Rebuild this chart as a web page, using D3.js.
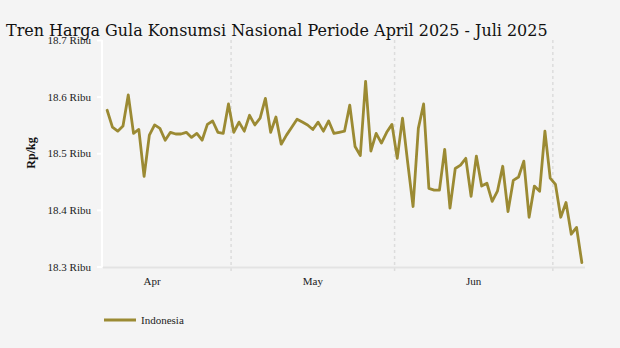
<!DOCTYPE html>
<html><head><meta charset="utf-8">
<script src="https://cdn.jsdelivr.net/npm/d3@7"></script>
<style>
html,body{margin:0;padding:0;background:#f4f4f4;}
svg{display:block;}
</style></head>
<body><svg id="c" width="620" height="348"></svg>
<script>
const title = "Tren Harga Gula Konsumsi Nasional Periode April 2025 - Juli 2025";
const seriesName = "Indonesia";
const yAxisTitle = "Rp/kg";
const startDate = "2025-04-07";
const prices = [
18576,18546,18539,18548,18603,18535,18542,18459,18532,18550,
18544,18523,18537,18534,18534,18537,18528,18535,18523,18551,
18557,18537,18535,18587,18537,18555,18539,18567,18550,18562,
18597,18537,18564,18516,18532,18546,18560,18555,18550,18542,
18555,18539,18557,18535,18537,18539,18585,18512,18496,18627,
18504,18535,18518,18537,18551,18491,18562,18482,18406,18544,
18587,18438,18435,18435,18507,18403,18473,18479,18491,18424,
18495,18442,18447,18415,18433,18477,18397,18452,18458,18486,
18387,18442,18433,18539,18456,18445,18387,18413,18357,18369,18307];
const yTicks = [18300,18400,18500,18600,18700];
const monthStarts = ["2025-04-01","2025-05-01","2025-06-01","2025-07-01"];
const monthLabels = ["Apr","May","Jun"];

const svg = d3.select("#c");
const parse = d3.utcParse("%Y-%m-%d");
const day = 864e5;
const t0 = parse(startDate);
const data = prices.map((v,i)=>({date:new Date(+t0 + i*day + day/2), v}));
const months = monthStarts.map(parse);

const x = d3.scaleUtc()
  .domain([new Date(+parse("2025-04-01") + 5.71*day), new Date(+parse("2025-07-01") + 6.1*day)])
  .range([103,585]);
const y = d3.scaleLinear().domain([18300,18700]).range([266.5,40]);

const lineColor = "#9b8a33";
const serif = "'Liberation Serif', 'Times New Roman', serif";

// month grid lines (dashed)
svg.append("g").selectAll("line").data(months.slice(1)).join("line")
  .attr("x1",d=>x(d)).attr("x2",d=>x(d))
  .attr("y1",40).attr("y2",272)
  .attr("stroke","#dcdcdc").attr("stroke-width",1.5).attr("stroke-dasharray","3,3");

// bottom axis line
svg.append("line").attr("x1",103).attr("x2",585).attr("y1",267.5).attr("y2",267.5)
  .attr("stroke","#e3e3e3").attr("stroke-width",2);

// y axis
const yAxis = d3.axisLeft(y).tickValues(yTicks).tickSize(5).tickPadding(6)
  .tickFormat(d=>d3.format(".1f")(d/1000)+" Ribu");
const ga = svg.append("g").attr("transform","translate(102,0)").call(yAxis);
ga.select(".domain").attr("stroke","#ffffff").attr("stroke-width",2).attr("d","M0,40V267");
ga.selectAll(".tick line").attr("stroke","#ffffff").attr("stroke-width",2);
ga.selectAll(".tick text").attr("fill","#222").style("font-family",serif).style("font-size","11px");

// x month labels at month midpoints
svg.append("g").selectAll("text").data(monthLabels).join("text")
  .attr("x",(d,i)=>(x(months[i])+x(months[i+1]))/2)
  .attr("y",285).attr("text-anchor","middle")
  .attr("fill","#222").style("font-family",serif).style("font-size","11px")
  .text(d=>d);

// line
const line = d3.line().x(d=>x(d.date)).y(d=>y(d.v));
svg.append("path").datum(data).attr("d",line)
  .attr("fill","none").attr("stroke",lineColor).attr("stroke-width",2.8)
  .attr("stroke-linejoin","round").attr("stroke-linecap","round");

// y axis title
svg.append("text").attr("transform","translate(35,153) rotate(-90)")
  .attr("text-anchor","middle").attr("fill","#111")
  .style("font-family",serif).style("font-weight","bold").style("font-size","12px")
  .text(yAxisTitle);

// legend
svg.append("line").attr("x1",104).attr("x2",136).attr("y1",320).attr("y2",320)
  .attr("stroke",lineColor).attr("stroke-width",3);
svg.append("text").attr("x",141).attr("y",324).attr("fill","#222")
  .style("font-family",serif).style("font-size","11px").text(seriesName);

// title
const tt = svg.append("text").attr("x",6).attr("y",36).attr("fill","#111")
  .style("font-family","'DejaVu Serif', serif").style("font-size","18px").text(title);
const w = tt.node().getComputedTextLength();
tt.style("font-size",(18*542/w).toFixed(2)+"px");
</script></body></html>
